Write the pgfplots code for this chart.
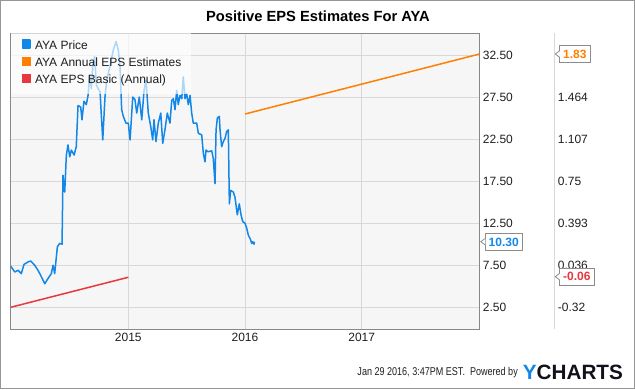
\documentclass[border=0pt]{standalone}
\usepackage{pgfplots}
\pgfplotsset{compat=1.18}
\usepackage{fontspec}
\setmainfont{Liberation Sans}
\newfontfamily\narrowfont[FakeStretch=0.8]{Liberation Sans}
\definecolor{pricecol}{RGB}{19,135,232}
\definecolor{orangecol}{RGB}{255,128,0}
\definecolor{redcol}{RGB}{232,56,61}
\definecolor{bgcol}{RGB}{246,246,246}
\definecolor{gridcol}{RGB}{216,216,216}
\definecolor{axiscol}{RGB}{136,136,136}
\definecolor{outercol}{RGB}{150,150,150}
\definecolor{calloutcol}{RGB}{140,140,140}
\definecolor{txtcol}{RGB}{30,30,30}
\definecolor{logodark}{RGB}{17,17,28}
\newcommand{\callout}[3]{%
  \node[anchor=west, draw=calloutcol, line width=0.8pt, fill=white, text=#2,
        font=\bfseries\fontsize{12}{12}\selectfont, inner xsep=3.5pt, inner ysep=4pt,
        text height=8.6pt, text depth=0pt] (cb) at #1 {#3};
  \fill[white] ([xshift=0.6pt,yshift=3pt]cb.west) -- ([xshift=-4pt]cb.west) -- ([xshift=0.6pt,yshift=-3pt]cb.west) -- cycle;
  \draw[calloutcol, line width=0.8pt] ([yshift=3pt]cb.west) -- ([xshift=-4pt]cb.west) -- ([yshift=-3pt]cb.west);
}
\begin{document}
\begin{tikzpicture}[x=1pt,y=1pt]
\draw[outercol, line width=1pt] (0.5,0.5) rectangle (634.5,388.5);
\begin{axis}[
  at={(10.7pt,59.7pt)}, anchor=south west, scale only axis,
  width=468.6pt, height=296pt,
  xmin=2013.992, xmax=2018.008, ymin=-0.116, ymax=35.08,
  axis background/.style={fill=bgcol},
  axis line style={draw=axiscol, line width=0.8pt},
  grid=major, grid style={draw=gridcol, line width=0.8pt},
  major tick length=0pt,
  xtick={2015,2016,2017}, xticklabels={2015,2016,2017},
  ytick={2.5,7.5,12.5,17.5,22.5,27.5,32.5},
  yticklabels={2.50,7.50,12.50,17.50,22.50,27.50,32.50},
  yticklabel pos=right, ytick pos=right, xtick pos=bottom,
  tick label style={font=\fontsize{12}{12}\selectfont, text=txtcol},
  legend cell align=left,
  legend image code/.code={\path (0pt,0pt); \fill[fill opacity=1] (2.6pt,-1pt) rectangle (10.3pt,6.7pt); \path (12.6pt,0pt);},
  legend style={at={(0,1)}, anchor=north west, draw=none, fill=white, fill opacity=0.65, text opacity=1,
    inner xsep=8pt, inner ysep=5.5pt, row sep=1.6pt, column sep=0pt,
    font=\fontsize{12}{12}\selectfont,
    nodes={inner xsep=2pt, inner ysep=2pt, text height=8.6pt, text depth=3pt, text=txtcol}},
]
\addplot[color=pricecol, line width=1.5pt, line join=round] coordinates {
(2013.992,7.4) (2014.027,6.7) (2014.055,6.9) (2014.083,6.5) (2014.106,7.6) (2014.141,7.9)
(2014.164,8.0) (2014.198,7.5) (2014.226,6.9) (2014.249,6.3) (2014.284,5.3) (2014.306,5.8)
(2014.340,6.5) (2014.355,7.5) (2014.369,6.5) (2014.392,9.7) (2014.412,10.1) (2014.432,10.0)
(2014.440,18.2) (2014.455,16.2) (2014.469,20.6) (2014.483,21.8) (2014.498,20.4) (2014.512,21.2)
(2014.535,20.6) (2014.554,21.6) (2014.569,26.5) (2014.592,26.3) (2014.603,24.8) (2014.620,27.0)
(2014.640,26.6) (2014.655,27.7) (2014.669,30.1) (2014.683,28.5) (2014.698,31.7) (2014.712,32.3)
(2014.726,28.9) (2014.758,28.1) (2014.766,26.0) (2014.781,22.4) (2014.800,27.5) (2014.815,29.5)
(2014.843,31.2) (2014.871,33.1) (2014.895,34.1) (2014.914,33.1) (2014.929,31.1) (2014.943,26.0)
(2014.957,25.2) (2014.980,24.4) (2015.000,24.4) (2015.015,22.4) (2015.038,27.5) (2015.057,27.2)
(2015.072,25.6) (2015.094,27.5) (2015.115,24.8) (2015.135,28.3) (2015.152,29.5) (2015.171,25.6)
(2015.192,24.0) (2015.209,22.4) (2015.220,24.8) (2015.237,22.2) (2015.257,24.4) (2015.278,25.6)
(2015.295,22.0) (2015.314,23.6) (2015.334,25.6) (2015.357,24.4) (2015.372,27.1) (2015.386,27.3)
(2015.400,26.0) (2015.415,28.3) (2015.428,26.6) (2015.443,27.7) (2015.458,27.3) (2015.471,29.9)
(2015.486,27.3) (2015.500,27.9) (2015.514,26.6) (2015.529,27.7) (2015.543,25.6) (2015.557,24.4)
(2015.586,24.4) (2015.600,23.2) (2015.629,23.0) (2015.643,20.8) (2015.657,19.8) (2015.666,21.2)
(2015.683,21.0) (2015.715,21.1) (2015.728,20.2) (2015.743,17.2) (2015.752,23.6) (2015.763,25.0)
(2015.780,25.2) (2015.786,23.6) (2015.800,21.6) (2015.814,22.2) (2015.829,22.6) (2015.843,23.4)
(2015.857,23.6) (2015.866,14.8) (2015.877,16.4) (2015.900,16.2) (2015.914,15.6) (2015.934,13.5)
(2015.951,14.8) (2015.966,13.5) (2015.980,12.7) (2016.000,12.5) (2016.015,11.9) (2016.028,11.1)
(2016.049,10.5) (2016.057,10.1) (2016.066,10.3) (2016.077,10.0) (2016.081,10.3)
};
\addlegendentry{AYA Price}
\addlegendimage{color=orangecol}
\addlegendentry{AYA Annual EPS Estimates}
\addlegendimage{color=redcol}
\addlegendentry{AYA EPS Basic (Annual)}
\coordinate (pl) at (axis cs:2018.008,10.3);
\end{axis}
\begin{axis}[
  at={(10.7pt,59.7pt)}, anchor=south west, scale only axis,
  width=468.6pt, height=296pt,
  xmin=2013.992, xmax=2018.008, ymin=-0.5068, ymax=2.0062,
  axis x line=none, axis y line*=right, y axis line style={draw=none},
  major tick length=0pt,
  ytick={-0.32,0.036,0.393,0.75,1.107,1.464},
  yticklabels={-0.32,0.036,0.393,0.75,1.107,1.464},
  yticklabel style={xshift=75pt},
  tick label style={font=\fontsize{12}{12}\selectfont, text=txtcol},
]
\addplot[color=orangecol, line width=1.5pt] coordinates {(2016.0,1.321) (2018.008,1.83)};
\addplot[color=redcol, line width=1.5pt] coordinates {(2013.992,-0.32) (2015.0,-0.065)};
\coordinate (ol) at (axis cs:2018.008,1.83);
\coordinate (rl) at (axis cs:2018.008,-0.06);
\end{axis}
\draw[gridcol, line width=0.8pt] (554.3,59.7) -- (554.3,355.7);
\callout{([xshift=5.5pt]pl)}{pricecol}{10.30}
\callout{([xshift=80pt]ol)}{orangecol}{1.83}
\callout{([xshift=80pt]rl)}{redcol}{-0.06}
\node[anchor=base, font=\bfseries\fontsize{14.7}{15}\selectfont, text=black] at (317.9,367.3) {Positive EPS Estimates For AYA};
\node[anchor=base east, inner sep=0pt, font=\narrowfont\fontsize{11.3}{12}\selectfont, text=txtcol] at (518,13.3) {Jan 29 2016, 3:47PM EST.\ \ Powered by};
\node[anchor=base west, inner sep=0pt, font=\bfseries\fontsize{20.7}{21}\selectfont] at (522.7,10) {\textcolor{pricecol}{Y}\textcolor{logodark}{CHARTS}};
\end{tikzpicture}
\end{document}
